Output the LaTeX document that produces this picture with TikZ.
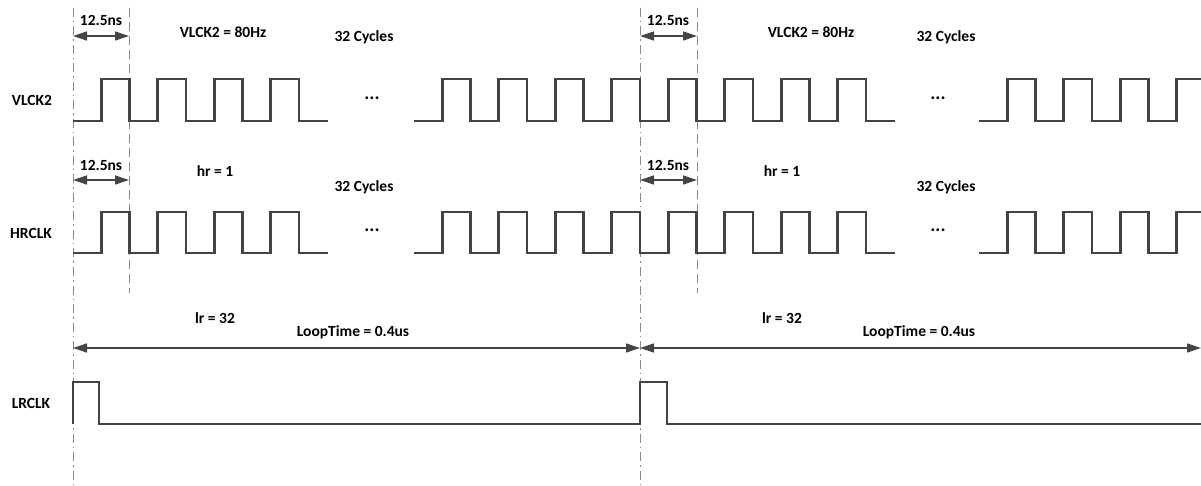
\documentclass[tikz,border=0pt]{standalone}
\usepackage{fontspec}
\setmainfont{Carlito}
\usetikzlibrary{arrows.meta}
\definecolor{wave}{HTML}{444444}
\definecolor{guide}{HTML}{8A8A8A}
\begin{document}
\begin{tikzpicture}[x=1pt,y=-1pt,
  lbl/.style={font=\fontsize{15.5}{18}\selectfont\bfseries, inner sep=0pt, anchor=center},
  dots/.style={font=\fontsize{19}{20}\selectfont\bfseries, inner sep=0pt, anchor=center},
  sig/.style={draw=wave, line width=2.8pt, line join=miter},
  dim/.style={draw=wave, line width=1.3pt, {Triangle[length=14pt,width=9pt]}-{Triangle[length=14pt,width=9pt]}},
  guideA/.style={draw=guide, line width=1pt, dash pattern=on 9pt off 4pt on 1.5pt off 4pt},
  guideB/.style={draw=guide, line width=1pt, dash pattern=on 9pt off 5pt}]
\useasboundingbox (0,0) rectangle (1201,486);

% guide lines
\coordinate (g0t) at (73,8);   \coordinate (g0b) at (73,486);
\coordinate (g1t) at (129,8);  \coordinate (g1b) at (129,293);
\coordinate (g2t) at (640,8);  \coordinate (g2b) at (640,486);
\coordinate (g3t) at (697,8);  \coordinate (g3b) at (697,293);
\draw[guideA] (g0t) -- (g0b);
\draw[guideB] (g1t) -- (g1b);
\draw[guideA] (g2t) -- (g2b);
\draw[guideB] (g3t) -- (g3b);

% signal labels
\node[lbl] (nv) at (32,100) {VLCK2};
\node[lbl] (nh) at (31,233) {HRCLK};
\node[lbl] (nl) at (31,403) {LRCLK};

% VLCK2
\draw[sig] (73,121) foreach \k in {1,...,4} { -- ++(28.25,0) -- ++(0,-42) -- ++(28.25,0) -- ++(0,42)} -- ++(29,0);
\draw[sig] (414,121) foreach \k in {1,...,8} { -- ++(28.25,0) -- ++(0,-42) -- ++(28.25,0) -- ++(0,42)} -- ++(28.5,0);
\draw[sig] (979,121) foreach \k in {1,...,3} { -- ++(28.25,0) -- ++(0,-42) -- ++(28.25,0) -- ++(0,42)} -- ++(28.25,0) -- ++(0,-42) -- (1201,79);
\node[dots] (d1) at (372,98) {...};
\node[dots] (d2) at (938,98) {...};

% HRCLK
\draw[sig] (73,253) foreach \k in {1,...,4} { -- ++(28.25,0) -- ++(0,-41) -- ++(28.25,0) -- ++(0,41)} -- ++(29,0);
\draw[sig] (414,253) foreach \k in {1,...,8} { -- ++(28.25,0) -- ++(0,-41) -- ++(28.25,0) -- ++(0,41)} -- ++(28.5,0);
\draw[sig] (979,253) foreach \k in {1,...,3} { -- ++(28.25,0) -- ++(0,-41) -- ++(28.25,0) -- ++(0,41)} -- ++(28.25,0) -- ++(0,-41) -- (1201,212);
\node[dots] (d3) at (372,230) {...};
\node[dots] (d4) at (938,230) {...};

% LRCLK
\draw[sig] (73,424) -- (73,382) -- (99,382) -- (99,424) -- (640,424) -- (640,382) -- (667,382) -- (667,424) -- (1201,424);

% 12.5ns dimensions
\coordinate (a0) at (73,36);  \coordinate (a1) at (129,36);
\coordinate (a2) at (640,36); \coordinate (a3) at (697,36);
\coordinate (b0) at (73,180); \coordinate (b1) at (129,180);
\coordinate (b2) at (640,180); \coordinate (b3) at (697,180);
\draw[dim] (a0) -- (a1);
\draw[dim] (a2) -- (a3);
\draw[dim] (b0) -- (b1);
\draw[dim] (b2) -- (b3);
\node[lbl] (t1) at (101,20) {12.5ns};
\node[lbl] (t2) at (668,20) {12.5ns};
\node[lbl] (t3) at (101,165) {12.5ns};
\node[lbl] (t4) at (668,165) {12.5ns};

\node[lbl] (f1) at (223,32) {VLCK2 = 80Hz};
\node[lbl] (f2) at (811,32) {VLCK2 = 80Hz};
\node[lbl] (c1) at (364,37) {32 Cycles};
\node[lbl] (c2) at (946,37) {32 Cycles};
\node[lbl] (h1) at (215,171) {hr = 1};
\node[lbl] (h2) at (782,171) {hr = 1};
\node[lbl] (c3) at (364,187) {32 Cycles};
\node[lbl] (c4) at (946,187) {32 Cycles};

% loop time
\coordinate (l0) at (73,348); \coordinate (l1) at (640,348); \coordinate (l2) at (1201,348);
\draw[dim] (l0) -- (l1);
\draw[dim] (l1) -- (l2);
\node[lbl] (r1) at (215,318) {lr = 32};
\node[lbl] (r2) at (782,318) {lr = 32};
\node[lbl] (p1) at (353,332) {LoopTime = 0.4us};
\node[lbl] (p2) at (919,332) {LoopTime = 0.4us};
\end{tikzpicture}
\end{document}
